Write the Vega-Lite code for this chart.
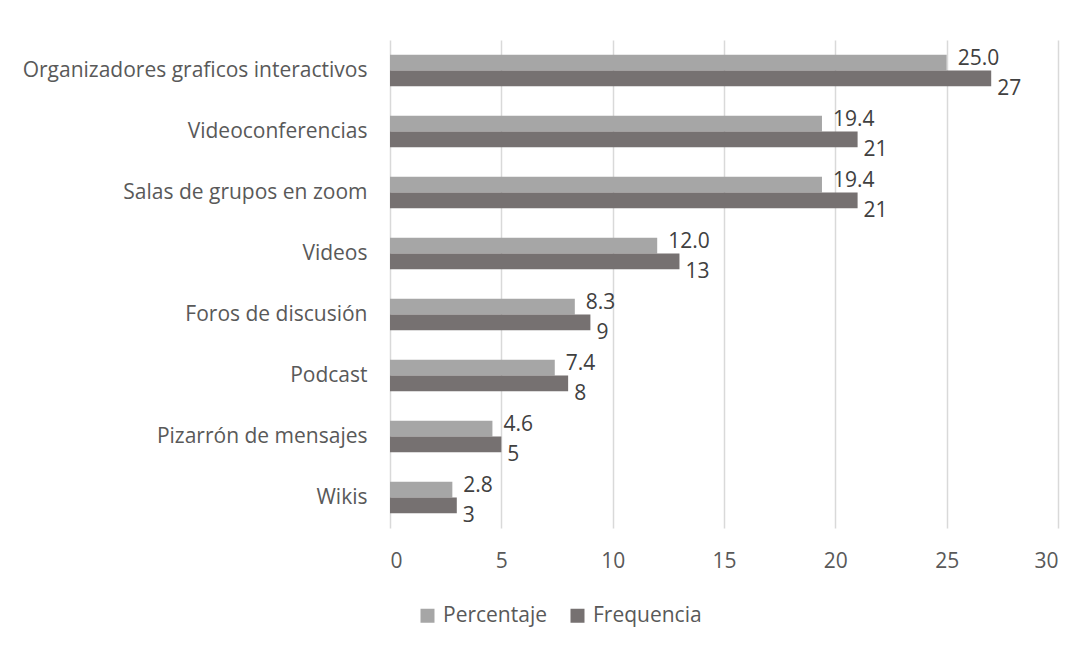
{
  "$schema": "https://vega.github.io/schema/vega-lite/v6.json",
  "autosize": "none",
  "width": 668,
  "height": 488,
  "padding": {"left": 390, "top": 40, "right": 31, "bottom": 117},
  "background": "white",
  "data": {"values": [
    {"cat": "Organizadores graficos interactivos", "serie": "Percentaje", "valor": 25.0},
    {"cat": "Organizadores graficos interactivos", "serie": "Frequencia", "valor": 27},
    {"cat": "Videoconferencias", "serie": "Percentaje", "valor": 19.4},
    {"cat": "Videoconferencias", "serie": "Frequencia", "valor": 21},
    {"cat": "Salas de grupos en zoom", "serie": "Percentaje", "valor": 19.4},
    {"cat": "Salas de grupos en zoom", "serie": "Frequencia", "valor": 21},
    {"cat": "Videos", "serie": "Percentaje", "valor": 12.0},
    {"cat": "Videos", "serie": "Frequencia", "valor": 13},
    {"cat": "Foros de discusión", "serie": "Percentaje", "valor": 8.3},
    {"cat": "Foros de discusión", "serie": "Frequencia", "valor": 9},
    {"cat": "Podcast", "serie": "Percentaje", "valor": 7.4},
    {"cat": "Podcast", "serie": "Frequencia", "valor": 8},
    {"cat": "Pizarrón de mensajes", "serie": "Percentaje", "valor": 4.6},
    {"cat": "Pizarrón de mensajes", "serie": "Frequencia", "valor": 5},
    {"cat": "Wikis", "serie": "Percentaje", "valor": 2.8},
    {"cat": "Wikis", "serie": "Frequencia", "valor": 3}
  ]},
  "encoding": {
    "y": {
      "field": "cat", "type": "nominal", "sort": null,
      "scale": {"paddingInner": 0.48, "paddingOuter": 0.24},
      "axis": {"title": null, "domain": false, "ticks": false, "labelPadding": 23,
               "labelFontSize": 21, "labelColor": "#595959", "labelFont": "Open Sans", "labelLimit": 400}
    },
    "yOffset": {"field": "serie", "type": "nominal", "sort": ["Percentaje", "Frequencia"]},
    "x": {
      "field": "valor", "type": "quantitative",
      "scale": {"domain": [0, 30], "nice": false},
      "axis": {"title": null, "values": [0, 5, 10, 15, 20, 25, 30], "domain": false, "ticks": false,
               "labelPadding": 22, "labelFontSize": 21, "labelColor": "#595959", "labelFont": "Open Sans",
               "gridColor": "#d9d9d9", "gridWidth": 1.5}
    }
  },
  "layer": [
    {
      "mark": {"type": "bar"},
      "encoding": {
        "color": {
          "field": "serie", "type": "nominal",
          "scale": {"domain": ["Percentaje", "Frequencia"], "range": ["#a6a6a6", "#767171"]},
          "legend": {"title": null, "orient": "none", "direction": "horizontal", "legendX": 27, "legendY": 565,
                     "symbolType": "square", "symbolSize": 196, "labelFontSize": 21, "labelColor": "#595959",
                     "labelFont": "Open Sans", "columnPadding": 20, "labelOffset": 5, "symbolStrokeWidth": 0}
        }
      }
    },
    {
      "transform": [{"filter": "datum.serie == 'Percentaje'"}],
      "mark": {"type": "text", "align": "left", "baseline": "middle", "dx": 11, "dy": -4,
               "fontSize": 21, "font": "Open Sans", "color": "#404040"},
      "encoding": {"text": {"field": "valor", "type": "quantitative", "format": ".1f"}}
    },
    {
      "transform": [{"filter": "datum.serie == 'Frequencia'"}],
      "mark": {"type": "text", "align": "left", "baseline": "middle", "dx": 6, "dy": 11,
               "fontSize": 21, "font": "Open Sans", "color": "#404040"},
      "encoding": {"text": {"field": "valor", "type": "quantitative", "format": "d"}}
    }
  ],
  "config": {"view": {"stroke": null}}
}
